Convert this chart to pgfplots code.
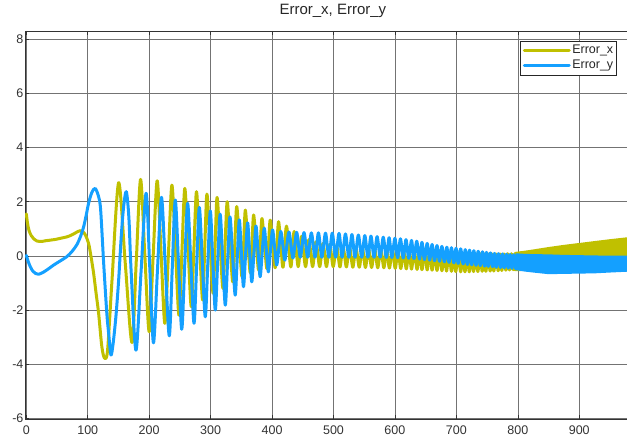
\documentclass[border=0pt]{standalone}
\usepackage{fontspec}
\setmainfont{Liberation Sans}
\usepackage{pgfplots}
\pgfplotsset{compat=1.18}
\definecolor{ycol}{RGB}{192,192,0}
\definecolor{bcol}{RGB}{20,160,255}
\begin{document}
\begin{tikzpicture}
\useasboundingbox (0,0) rectangle (627bp,440bp);
\clip (0,0) rectangle (627bp,440bp);
\begin{axis}[
 at={(25.07bp,20.5bp)}, anchor=south west,
 scale only axis, width=615.6bp, height=388.5bp,
 xmin=-2, xmax=1000, ymin=-6.04, ymax=8.3,
 xtick={0,100,...,900}, ytick={-6,-4,...,8},
 grid=major, major grid style={black!55, line width=0.6bp},
 axis line style={black!80, line width=0.6bp},
 tick align=inside, major tick length=4bp, tick style={black!80, line width=0.6bp},
 tick label style={font=\fontsize{12.5bp}{14bp}\selectfont, text=black!80},
 /pgf/number format/assume math mode=true,
 /pgf/number format/1000 sep={},
 xticklabel style={yshift=-3bp},
 yticklabel style={inner sep=1.5bp},
 title={Error\_x, Error\_y},
 title style={font=\fontsize{15bp}{17bp}\selectfont, text=black!85, at={(0.5,1)}, anchor=base, yshift=11bp},
 legend style={at={(0.9616,0.974)}, anchor=north east, draw=black!85, line width=0.6bp,
   font=\fontsize{12.5bp}{14bp}\selectfont, inner xsep=2bp, inner ysep=2bp, row sep=0bp,
   nodes={inner sep=1.5bp, text height=9bp, text depth=3bp}, text=black!85},
 legend cell align=left,
 legend image code/.code={\draw[#1, line width=3bp] (0bp,0bp) -- (45bp,0bp);},
]
% Error_x oscillating part
\addplot[ycol, line width=3bp, smooth, line join=round, line cap=round] coordinates {
(0,1.55) (2,1.2) (4.5,0.93) (8,0.75) (12,0.63) (17,0.55) (25,0.53) (32,0.56) (39,0.58) (48,0.61) (58,0.66) (66,0.7) (72,0.75) (78,0.82) (84,0.9) (88,0.93) (92,0.89) (96,0.78) (101.4,0.46) (105.5,-0.05) (109.6,-0.65) (113.7,-1.4) (117.7,-2.12) (123,-3.36) (127.5,-3.78) (132.3,-3.48) (139.5,-0.9) (150.3,2.7) (161,-0.25) (172,-3.2) (179,-0.19) (186,2.82) (193,0.0) (200,-2.8) (206.5,0.0) (213,2.77) (219.3,0.14) (225.5,-2.49) (231.3,0.06) (237,2.61) (242.8,0.21) (248.5,-2.19) (253.3,0.15) (258,2.49) (263.3,0.3) (268.5,-1.88) (272.8,0.25) (277,2.37) (282,0.37) (287,-1.63) (290.5,0.33) (294,2.28) (299,0.45) (304,-1.38) (307.3,0.39) (310.5,2.16) (315.3,0.48) (320,-1.2) (323.5,0.4) (327,2.0) (331.5,0.52) (336,-0.96) (339.3,0.43) (342.5,1.82) (346.8,0.53) (351,-0.77) (353.8,0.46) (356.5,1.69) (360.5,0.54) (364.5,-0.62) (367.3,0.45) (370,1.51) (374,0.5) (378,-0.52) (380.8,0.43) (383.6,1.38) (387.6,0.46) (391.5,-0.47) (394.3,0.43) (397,1.32) (401,0.44) (405,-0.44) (407.8,0.41) (410.6,1.26) (414.3,0.42) (418,-0.42) (423.5,1.1) (430.5,-0.41) (436,0.9) (442.5,-0.4) (448,0.72) (454.5,-0.4) (460,0.6) (466,-0.4) (471.5,0.52) (477.5,-0.4) (483,0.46) (488.5,-0.4) (494,0.42) (499.5,-0.4) (505,0.38) (510.5,-0.41) (515.5,0.35) (521,-0.41) (526,0.33) (531.5,-0.42) (536.5,0.31) (542,-0.42) (547,0.29) (552,-0.43) (557,0.27) (562,-0.43) (567,0.26) (572,-0.44) (577,0.25) (582,-0.44) (586.5,0.24) (591,-0.45) (596,0.23) (600.5,-0.46) (605,0.22) (609.5,-0.47) (614,0.21) (618.5,-0.48) (623,0.2) (627,-0.49) (631.5,0.19) (636,-0.5) (640,0.18) (644,-0.51) (648.5,0.17) (652.5,-0.52) (656.5,0.16) (660.5,-0.53) (664.5,0.15) (668.5,-0.54) (672.5,0.14) (676.5,-0.55) (680.5,0.13) (684,-0.56) (688,0.12) (692,-0.57) (695.5,0.11) (699,-0.58) (703,0.1) (707,-0.59) (710.5,0.09) (714,-0.59) (717.5,0.09) (721,-0.59) (724.5,0.08) (728,-0.58) (731.5,0.08) (735,-0.58) (738.5,0.08) (742,-0.57) (745,0.07) (748,-0.57) (751.5,0.07) (755,-0.56) (758,0.07) (761,-0.56) (764.5,0.07) (768,-0.55) (771,0.07) (774,-0.54) (777.5,0.07) (780.5,-0.53) (783.5,0.08) (786.5,-0.52) (789.5,0.08) (792.5,-0.51) (795.5,0.09)
};
\addlegendentry{Error\_x}
% Error_x dense band (envelope)
\addplot[ycol, fill=ycol, line width=3bp, line join=round, forget plot] coordinates {
(795.5,0.09) (810,0.13) (825,0.18) (850,0.27) (875,0.35) (900,0.42) (925,0.49) (950,0.56) (978,0.63) (1000,0.68)
(1000,-0.33) (950,-0.36) (900,-0.4) (850,-0.45) (825,-0.48) (810,-0.5) (795.5,-0.51) (795.5,0.09)
};
% Error_y oscillating part
\addplot[bcol, line width=3bp, smooth, line join=round, line cap=round] coordinates {
(0,0.02) (3,-0.2) (6.5,-0.4) (10.5,-0.56) (15,-0.65) (20,-0.68) (28,-0.6) (36,-0.48) (44.5,-0.34) (55,-0.19) (66,-0.03) (75,0.18) (82.5,0.42) (88,0.7) (93.3,1.07) (97.5,1.5) (101.4,1.94) (106.5,2.33) (112,2.49) (117.5,2.2) (121,1.7) (126,-0.3) (131,-2.1) (134,-2.85) (137.8,-3.66) (141.5,-3.2) (146,-2.2) (150.3,-0.9) (154.5,0.7) (158.4,1.81) (162.8,2.37) (167,1.4) (170.6,-0.55) (178.5,-3.48) (186.8,-0.58) (195,2.31) (201,-0.45) (207,-3.21) (213.5,-0.52) (220,2.16) (226.3,-0.4) (232.7,-2.95) (237.6,-0.45) (242.5,2.06) (247.8,-0.33) (253,-2.71) (257.8,-0.38) (262.6,1.94) (267.8,-0.28) (273,-2.49) (277.3,-0.35) (281.6,1.79) (286.5,-0.23) (291.3,-2.25) (295.4,-0.3) (299.5,1.66) (303.5,-0.17) (307.6,-2.0) (311.5,-0.23) (315.5,1.54) (319.7,-0.14) (323.9,-1.82) (327.7,-0.19) (331.5,1.44) (335.8,0.0) (340,-1.45) (343.4,-0.06) (346.7,1.33) (350.1,0.1) (353.5,-1.14) (356.9,0.04) (360.2,1.22) (363.6,0.13) (367,-0.96) (370.4,0.07) (373.8,1.1) (377.2,0.17) (380.6,-0.77) (384,0.13) (387.3,1.02) (390.7,0.22) (394,-0.59) (397.4,0.19) (400.8,0.96) (404.2,0.31) (407.6,-0.34) (411,0.28) (414.3,0.9) (417.7,0.37) (421,-0.155) (427.5,0.88) (434,-0.08) (440,0.87) (446,-0.05) (452,0.86) (458,-0.05) (464,0.85) (470,-0.05) (475.5,0.85) (481,-0.05) (487,0.84) (492.5,-0.05) (498,0.84) (503.5,-0.05) (509,0.83) (514,-0.05) (519.5,0.81) (525,-0.05) (530,0.79) (535,-0.05) (540.5,0.77) (546,-0.05) (551,0.75) (556,-0.05) (561,0.73) (566,-0.05) (571,0.71) (576,-0.05) (581,0.69) (586,-0.06) (590.5,0.67) (595,-0.06) (600,0.65) (604.5,-0.07) (609,0.63) (613.5,-0.08) (618,0.6) (622.5,-0.09) (627,0.57) (631,-0.1) (635.5,0.54) (640,-0.12) (644,0.5) (648,-0.14) (652.5,0.46) (656.5,-0.16) (660.5,0.42) (664.5,-0.18) (668.5,0.38) (672.5,-0.2) (676.5,0.35) (680.5,-0.22) (684.5,0.32) (688,-0.24) (692,0.3) (696,-0.26) (699.5,0.28) (703,-0.28) (707,0.26) (711,-0.3) (714.5,0.23) (718,-0.32) (721.5,0.21) (725,-0.33) (728.5,0.19) (732,-0.35) (735.5,0.17) (739,-0.36) (742.5,0.15) (746,-0.38) (749,0.13) (752,-0.39) (755.5,0.11) (759,-0.4) (762,0.09) (765,-0.42) (768.5,0.08) (772,-0.43) (775,0.07) (778,-0.44) (781.5,0.06) (784.5,-0.45) (787.5,0.05) (790.5,-0.46) (793.5,0.04) (796.5,-0.47)
};
\addlegendentry{Error\_y}
% Error_y dense band (envelope)
\addplot[bcol, fill=bcol, line width=3bp, line join=round, forget plot] coordinates {
(796.5,0.04) (810,0.02) (825,0.01) (850,0.0) (875,-0.02) (900,-0.03) (925,-0.04) (950,-0.05) (978,-0.05) (1000,-0.05)
(1000,-0.52) (978,-0.53) (950,-0.56) (925,-0.59) (900,-0.6) (875,-0.61) (850,-0.62) (825,-0.56) (810,-0.52) (796.5,-0.47) (796.5,0.04)
};
\end{axis}
\end{tikzpicture}
\end{document}
